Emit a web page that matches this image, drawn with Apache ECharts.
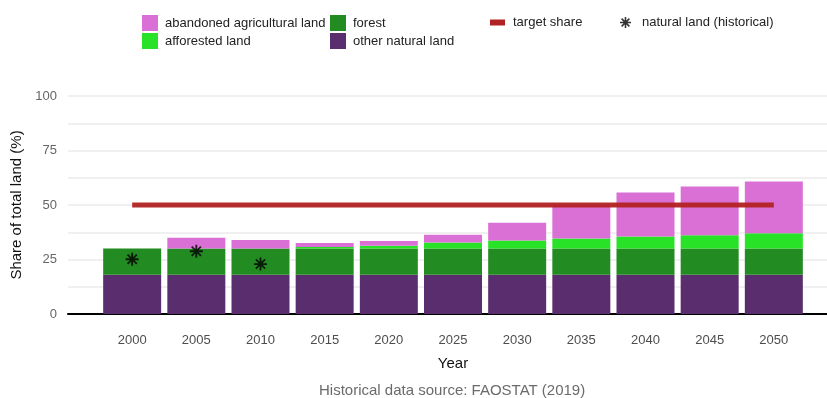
<!DOCTYPE html>
<html>
<head>
<meta charset="utf-8">
<script src="https://cdn.jsdelivr.net/npm/echarts@6/dist/echarts.min.js"></script>
<style>html,body{margin:0;padding:0;background:#fff}#c{width:827px;height:398px}</style>
</head>
<body>
<div id="c"></div>
<script>
// values (share of total land, %)
// axis runs 1995..2055; the two end slots are empty padding
const years = ['1995', '2000', '2005', '2010', '2015', '2020', '2025', '2030', '2035', '2040', '2045', '2050', '2055'];
const otherNatural = ['-', 18, 18, 18, 18, 18, 18, 18, 18, 18, 18, 18, '-'];
const forest = ['-', 12, 12, 12, 12, 12, 12, 12, 12, 12, 12, 12, '-'];
const afforested = ['-', 0, 0, 0, 0.7, 1.3, 2.8, 3.7, 4.6, 5.5, 6.1, 7.0, '-'];
const abandoned = ['-', 0, 5, 4, 1.9, 2.2, 3.6, 8.2, 15.4, 20.2, 22.4, 23.8, '-'];
const histYears = ['2000', '2005', '2010'];
const histNatural = [25.1, 28.8, 22.9];
const targetYears = ['2000', '2050'];
const targetShare = [50, 50];

const FONT = '"Liberation Sans", Arial, sans-serif';
const STAR = 'path://M0 43H100V57H0Z M43 0H57V100H43Z M19.55 9.65L90.35 80.45L80.45 90.35L9.65 19.55Z M80.45 9.65L90.35 19.55L19.55 90.35L9.65 80.45Z';

const bar = (name, arr, color) => ({
  name, type: 'bar', stack: 'land', barWidth: 58, data: arr,
  itemStyle: {color}, emphasis: {disabled: true}
});
const legText = pad => ({fontFamily: FONT, fontSize: 13, color: '#222', padding: [0, 0, 0, pad]});
const legendBase = {orient: 'vertical', padding: 0, itemGap: 2, itemWidth: 16, itemHeight: 16, icon: 'rect',
  textStyle: legText(2), selectedMode: false};

const chart = echarts.init(document.getElementById('c'));
chart.setOption({
  animation: false,
  title: {text: 'Historical data source: FAOSTAT (2019)', left: 319, top: 383, padding: 0,
    textStyle: {fontFamily: FONT, fontSize: 15, fontWeight: 'normal', color: '#6b6b6b'}},
  legend: [
    Object.assign({}, legendBase, {left: 142, top: 15, data: ['abandoned agricultural land', 'afforested land']}),
    Object.assign({}, legendBase, {left: 330, top: 15, data: ['forest', 'other natural land']}),
    Object.assign({}, legendBase, {left: 490, top: 16, itemHeight: 6, itemWidth: 15, textStyle: legText(3),
      data: ['target share']}),
    Object.assign({}, legendBase, {left: 620, top: 16, itemHeight: 11, itemWidth: 11, textStyle: legText(6),
      data: [{name: 'natural land (historical)', icon: STAR}]})
  ],
  grid: {left: 68, top: 96, right: -11, bottom: 84, outerBoundsMode: 'none'},
  xAxis: {
    type: 'category', data: years, boundaryGap: false,
    name: 'Year', nameLocation: 'middle', nameGap: 42,
    nameTextStyle: {fontFamily: FONT, fontSize: 15, color: '#111'},
    axisLine: {show: true, onZero: false, lineStyle: {color: '#000', width: 2}},
    axisTick: {show: false}, splitLine: {show: false},
    axisLabel: {interval: 0, margin: 20, fontFamily: FONT, fontSize: 13, color: '#4d4d4d',
      formatter: v => (v === '1995' || v === '2055') ? '' : v}
  },
  yAxis: {
    type: 'value', min: 0, max: 100, interval: 25,
    name: 'Share of total land (%)', nameLocation: 'middle', nameGap: 38,
    nameTextStyle: {fontFamily: FONT, fontSize: 15, color: '#111'},
    axisLine: {show: false}, axisTick: {show: false},
    axisLabel: {margin: 11, fontFamily: FONT, fontSize: 13, color: '#666'},
    splitLine: {lineStyle: {color: '#ebebeb', width: 1.5}},
    minorTick: {show: false, splitNumber: 2},
    minorSplitLine: {show: true, lineStyle: {color: '#ebebeb', width: 1.5}}
  },
  series: [
    bar('other natural land', otherNatural, '#5a2d6e'),
    bar('forest', forest, '#228b22'),
    bar('afforested land', afforested, '#28e228'),
    bar('abandoned agricultural land', abandoned, '#da70d6'),
    {name: 'target share', type: 'line', data: targetYears.map((y, i) => [y, targetShare[i]]),
      symbol: 'none', z: 5, lineStyle: {color: '#b22222', width: 5, opacity: 0.95},
      itemStyle: {color: '#b22222'}, emphasis: {disabled: true}},
    {name: 'natural land (historical)', type: 'scatter', data: histYears.map((y, i) => [y, histNatural[i]]),
      symbol: STAR, symbolSize: 13, z: 6, itemStyle: {color: '#000'}, emphasis: {disabled: true}}
  ]
});
</script>
</body>
</html>
